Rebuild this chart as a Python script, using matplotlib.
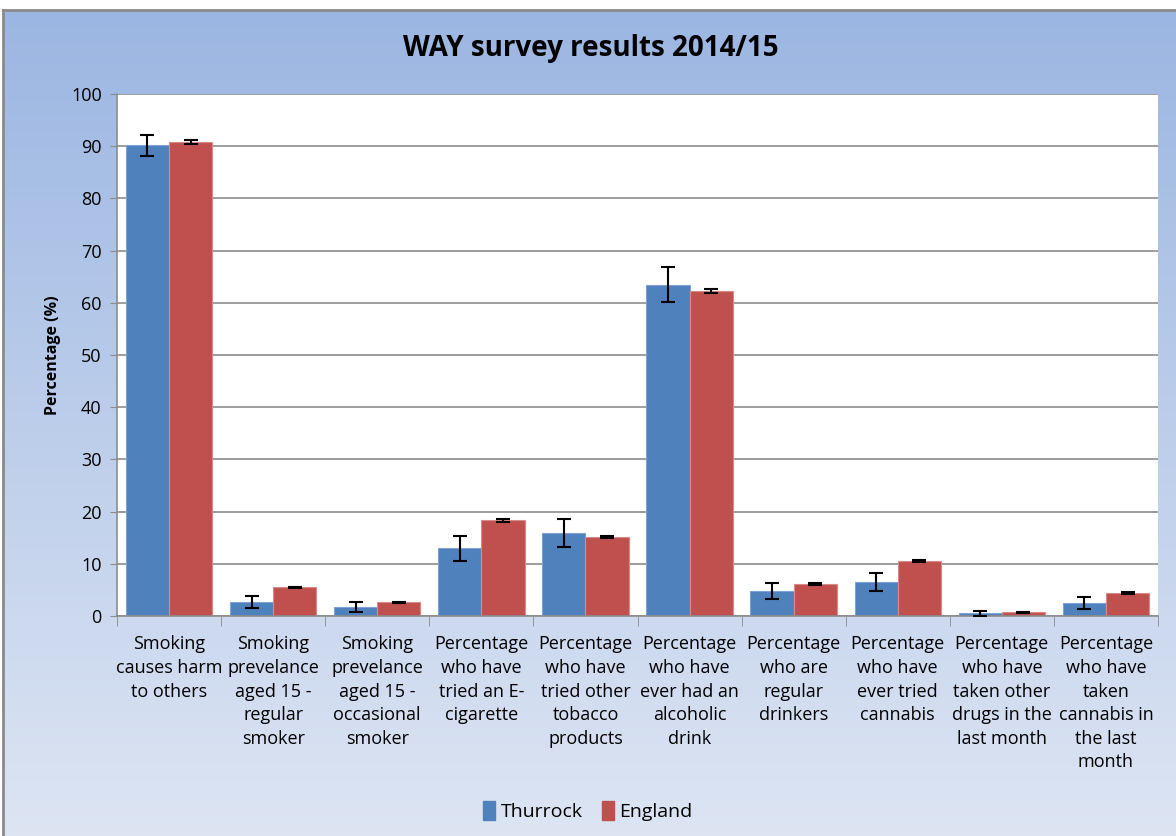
import matplotlib.pyplot as plt
import numpy as np
from matplotlib.colors import LinearSegmentedColormap

# data
categories = [
    "Smoking\ncauses harm\nto others",
    "Smoking\nprevelance\naged 15 -\nregular\nsmoker",
    "Smoking\nprevelance\naged 15 -\noccasional\nsmoker",
    "Percentage\nwho have\ntried an E-\ncigarette",
    "Percentage\nwho have\ntried other\ntobacco\nproducts",
    "Percentage\nwho have\never had an\nalcoholic\ndrink",
    "Percentage\nwho are\nregular\ndrinkers",
    "Percentage\nwho have\never tried\ncannabis",
    "Percentage\nwho have\ntaken other\ndrugs in the\nlast month",
    "Percentage\nwho have\ntaken\ncannabis in\nthe last\nmonth",
]
thurrock = [90.2, 2.7, 1.7, 13.0, 15.9, 63.5, 4.8, 6.5, 0.5, 2.4]
thurrock_err = [2.0, 1.1, 1.0, 2.4, 2.6, 3.3, 1.6, 1.75, 0.5, 1.15]
england = [90.8, 5.5, 2.6, 18.3, 15.1, 62.3, 6.1, 10.5, 0.7, 4.4]
england_err = [0.3, 0.15, 0.15, 0.2, 0.2, 0.35, 0.2, 0.15, 0.1, 0.2]

plt.rcParams['font.family'] = ['Open Sans', 'DejaVu Sans']

fig = plt.figure(figsize=(11.76, 8.36), dpi=100)

# gradient chart background with thin grey frame
bg = fig.add_axes([3 / 1176, 0, 1 - 3 / 1176, 826 / 836], zorder=-1)
cmap = LinearSegmentedColormap.from_list('bg', ['#dde5f3', '#9bb6e2'])
bg.imshow(np.linspace(0, 1, 256).reshape(-1, 1), aspect='auto', cmap=cmap,
          origin='lower', extent=[0, 1, 0, 1])
bg.set_xticks([])
bg.set_yticks([])
for side in ['right', 'bottom']:
    bg.spines[side].set_visible(False)
for side in ['top', 'left']:
    bg.spines[side].set_color('#8a8a8a')
    bg.spines[side].set_linewidth(2)

ax = fig.add_axes([117 / 1176, 220 / 836, 1041 / 1176, 522 / 836])
ax.set_facecolor('white')

x = np.arange(len(categories))
w = 0.415
ax.bar(x - w / 2, thurrock, w, color='#4f81bd', edgecolor='#7fa3d4', linewidth=0.8, zorder=2)
ax.bar(x + w / 2, england, w, color='#c0504d', edgecolor='#d98a88', linewidth=0.8, zorder=2)
ax.errorbar(x - w / 2, thurrock, yerr=thurrock_err, fmt='none', ecolor='black',
            elinewidth=1.5, capsize=5, capthick=1.5, zorder=3)
ax.errorbar(x + w / 2, england, yerr=england_err, fmt='none', ecolor='black',
            elinewidth=1.5, capsize=5, capthick=1.5, zorder=3)

ax.set_xlim(-0.5, len(categories) - 0.5)
ax.set_ylim(0, 100)
ax.set_yticks(np.arange(0, 101, 10))
ax.yaxis.grid(True, color='#8c8c8c', linewidth=1.2, zorder=0)
ax.set_axisbelow(True)
ax.tick_params(axis='y', labelsize=13, length=5, color='#8c8c8c', pad=6)

ax.set_xticks(x)
ax.set_xticklabels(categories, fontsize=13, linespacing=1.4, va='top')
ax.set_xticks(np.arange(-0.5, len(categories), 1), minor=True)
ax.tick_params(axis='x', which='major', length=0, pad=14)
ax.tick_params(axis='x', which='minor', length=7, color='#8c8c8c')

for side in ['top', 'right']:
    ax.spines[side].set_visible(False)
ax.spines['left'].set_color('#8c8c8c')
ax.spines['bottom'].set_color('#8c8c8c')
ax.spines['left'].set_linewidth(1.2)
ax.spines['bottom'].set_linewidth(1.2)

ax.set_ylabel('Percentage (%)', fontsize=11.5, fontweight='bold', labelpad=7)

fig.text(0.502, 0.942, 'WAY survey results 2014/15', ha='center', va='center',
         fontsize=20, fontweight='bold')

handles = [plt.Rectangle((0, 0), 1, 1, color='#4f81bd'),
           plt.Rectangle((0, 0), 1, 1, color='#c0504d')]
fig.legend(handles, ['Thurrock', 'England'], loc='center', bbox_to_anchor=(0.5, 0.03),
           ncol=2, frameon=False, fontsize=14, handlelength=0.6, handleheight=1.1,
           handletextpad=0.3, columnspacing=1.0)

fig.savefig('out.png', dpi=100)
